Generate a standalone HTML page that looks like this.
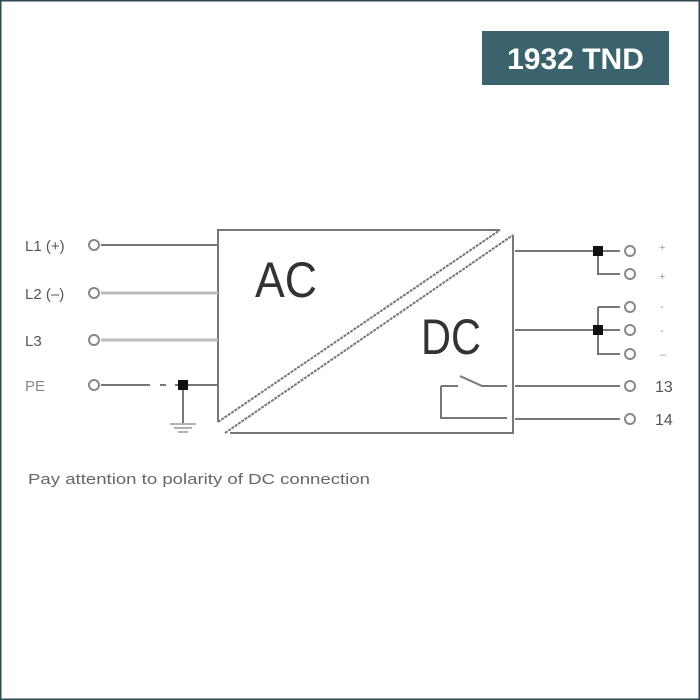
<!DOCTYPE html>
<html><head><style>
html,body{margin:0;padding:0;background:#fff;}
svg{display:block;}
</style></head><body>
<svg width="700" height="700" xmlns="http://www.w3.org/2000/svg" font-family="Liberation Sans, sans-serif">
<rect x="0.5" y="0.5" width="699" height="699" fill="#fff" stroke="#2d4a52" stroke-width="2"/>
<rect x="482" y="31" width="187" height="54" fill="#3b636d"/>
<text x="575.5" y="69" text-anchor="middle" font-size="30" font-weight="bold" fill="#fff">1932 TND</text>
<g stroke="#777" stroke-width="2" fill="none">
<!-- box -->
<path d="M500 230 H218 V422"/>
<path d="M513 235 V433 H230"/>
<path d="M218 422 L500 230" stroke-dasharray="3 1"/>
<path d="M225 433 L513 235" stroke-dasharray="3 1"/>
<!-- left lines -->
<path d="M101 245 H218"/>
<path d="M101 293 H218" stroke="#bbb" stroke-width="3"/>
<path d="M101 340 H218" stroke="#bbb" stroke-width="3"/>
<path d="M101 385 H150 M160 385 H166 M175 385 H218"/>
<path d="M183 385 V423"/>
<path d="M170 424 H196 M174 428 H192 M178 432 H188" stroke-width="1.5" stroke="#999"/>
<!-- right lines -->
<path d="M515 251 H620 M598 251 V274 H620"/>
<path d="M515 330 H620 M598 307 H620 M598 307 V354 H620"/>
<path d="M515 386 H620 M515 419 H620"/>
<!-- relay -->
<path d="M441 386 H458 M460 376 L482 386 H507 M441 386 V418 H507"/>
</g>
<g fill="#fff" stroke="#888" stroke-width="2">
<circle cx="94" cy="245" r="5"/><circle cx="94" cy="293" r="5"/><circle cx="94" cy="340" r="5"/><circle cx="94" cy="385" r="5"/>
<circle cx="630" cy="251" r="5"/><circle cx="630" cy="274" r="5"/><circle cx="630" cy="307" r="5"/><circle cx="630" cy="330" r="5"/><circle cx="630" cy="354" r="5"/><circle cx="630" cy="386" r="5"/><circle cx="630" cy="419" r="5"/>
</g>
<g fill="#111"><rect x="178" y="380" width="10" height="10"/><rect x="593" y="246" width="10" height="10"/><rect x="593" y="325" width="10" height="10"/></g>
<g fill="#555" font-size="15">
<text x="25" y="251">L1 (+)</text><text x="25" y="299">L2 (–)</text><text x="25" y="346">L3</text><text x="25" y="391" fill="#888">PE</text>
<text x="659" y="251" font-size="11" fill="#999">+</text><text x="659" y="280" font-size="11" fill="#999">+</text>
<text x="660" y="310" font-size="11" fill="#999">-</text><text x="660" y="334" font-size="11" fill="#999">-</text><text x="660" y="358" font-size="11" fill="#999">–</text>
<text x="655" y="392" font-size="16">13</text><text x="655" y="425" font-size="16">14</text>
<text x="28" y="484" font-size="15" fill="#666" textLength="342" lengthAdjust="spacingAndGlyphs">Pay attention to polarity of DC connection</text>
</g>
<text x="255" y="297" font-size="50" fill="#333" textLength="62" lengthAdjust="spacingAndGlyphs">AC</text>
<text x="421" y="354" font-size="50" fill="#333" textLength="60" lengthAdjust="spacingAndGlyphs">DC</text>
</svg>
</body></html>
